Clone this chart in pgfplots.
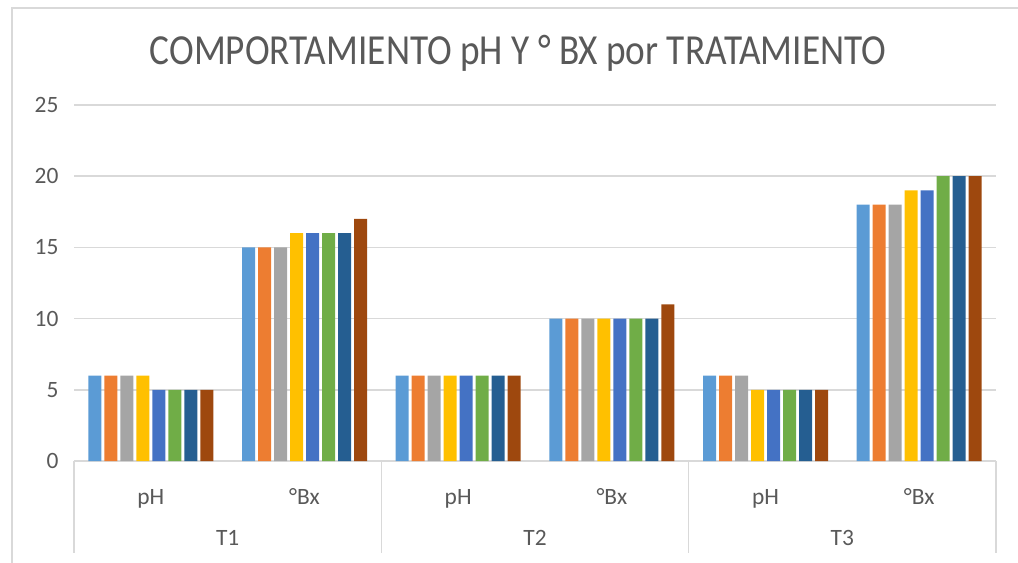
\documentclass[border=0pt]{standalone}
\usepackage{fontspec}
\setmainfont{Carlito}
\usepackage{pgfplots}
\pgfplotsset{compat=1.18}

\definecolor{txt}{HTML}{595959}
\definecolor{gridc}{HTML}{D9D9D9}
\definecolor{s1}{HTML}{5B9BD5}
\definecolor{s2}{HTML}{ED7D31}
\definecolor{s3}{HTML}{A5A5A5}
\definecolor{s4}{HTML}{FFC000}
\definecolor{s5}{HTML}{4472C4}
\definecolor{s6}{HTML}{70AD47}
\definecolor{s7}{HTML}{255E91}
\definecolor{s8}{HTML}{9E480E}

\begin{document}
\begin{tikzpicture}
\path[use as bounding box] (-74bp,-102bp) rectangle (944bp,461bp);
\begin{axis}[
    at={(0,0)}, anchor=south west,
    scale only axis,
    width=922bp, height=356bp,
    ybar=3bp,
    bar width=13bp,
    xmin=-0.5, xmax=5.5,
    ymin=0, ymax=25,
    ytick={0,5,10,15,20,25},
    xtick={0,1,2,3,4,5},
    xticklabels={pH,°Bx,pH,°Bx,pH,°Bx},
    axis line style={draw=none},
    tick style={draw=none},
    ymajorgrids,
    grid style={line width=1.4bp, gridc},
    /pgf/number format/assume math mode=true,
    ticklabel style={font=\fontsize{23.5}{26}\selectfont, text=txt},
    yticklabel style={anchor=east, xshift=-12bp},
    xticklabel style={anchor=base, yshift=-39bp},
    clip=false,
]
\addplot[fill=s1, draw=none] coordinates {(0,6) (1,15) (2,6) (3,10) (4,6) (5,18)};
\addplot[fill=s2, draw=none] coordinates {(0,6) (1,15) (2,6) (3,10) (4,6) (5,18)};
\addplot[fill=s3, draw=none] coordinates {(0,6) (1,15) (2,6) (3,10) (4,6) (5,18)};
\addplot[fill=s4, draw=none] coordinates {(0,6) (1,16) (2,6) (3,10) (4,5) (5,19)};
\addplot[fill=s5, draw=none] coordinates {(0,5) (1,16) (2,6) (3,10) (4,5) (5,19)};
\addplot[fill=s6, draw=none] coordinates {(0,5) (1,16) (2,6) (3,10) (4,5) (5,20)};
\addplot[fill=s7, draw=none] coordinates {(0,5) (1,16) (2,6) (3,10) (4,5) (5,20)};
\addplot[fill=s8, draw=none] coordinates {(0,5) (1,17) (2,6) (3,11) (4,5) (5,20)};
% group separators
\pgfplotsinvokeforeach{-0.5,1.5,3.5,5.5}{
  \draw[gridc, line width=1.4bp] (axis cs:#1,0) -- ++(0pt,-92bp);
}
% group labels
\node[anchor=base, text=txt, font=\fontsize{23.5}{26}\selectfont]
  at ([yshift=-84bp]axis cs:0.5,0) {T1};
\node[anchor=base, text=txt, font=\fontsize{23.5}{26}\selectfont]
  at ([yshift=-84bp]axis cs:2.5,0) {T2};
\node[anchor=base, text=txt, font=\fontsize{23.5}{26}\selectfont]
  at ([yshift=-84bp]axis cs:4.5,0) {T3};
\end{axis}
% chart frame
\draw[gridc, line width=1.4bp] (944bp,453bp) -- (-62bp,453bp) -- (-62bp,-102bp);
% title
\node[text=txt, font=\fontsize{43}{50}\selectfont] at (444bp,408bp)
  {\scalebox{0.87}[1]{COMPORTAMIENTO pH Y ° BX por TRATAMIENTO}};
\end{tikzpicture}
\end{document}
